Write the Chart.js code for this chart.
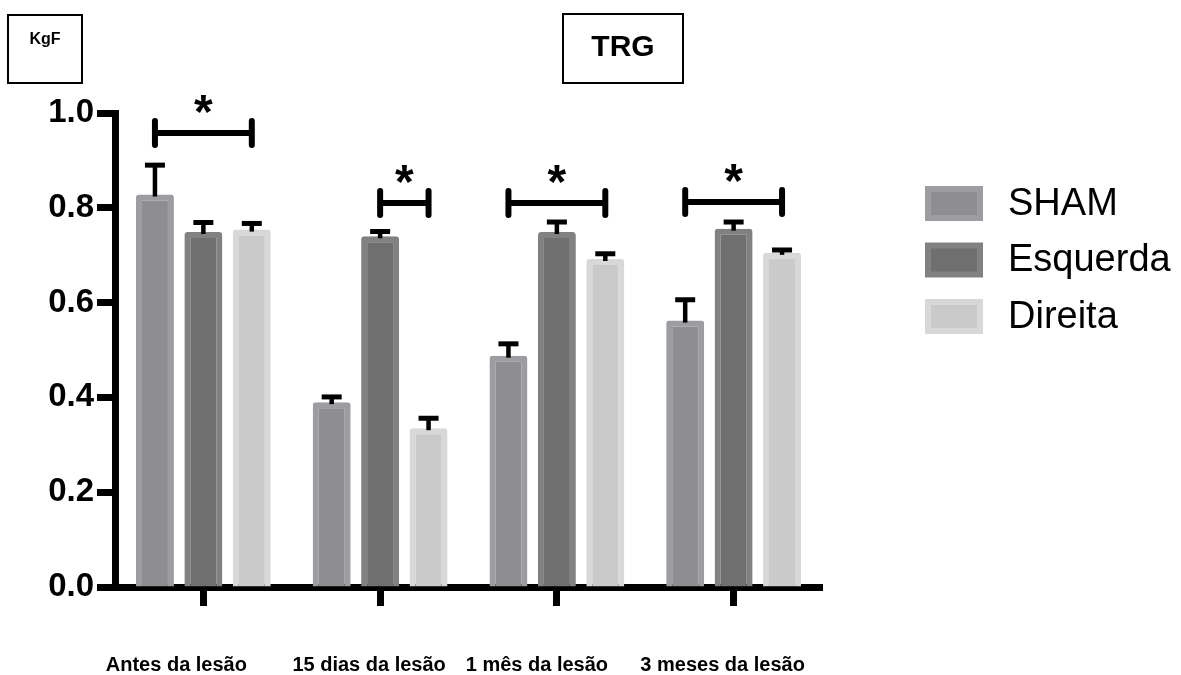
<!DOCTYPE html>
<html>
<head>
<meta charset="utf-8">
<script src="https://cdn.jsdelivr.net/npm/chart.js@4.4.1/dist/chart.umd.min.js"></script>
<style>
  html, body { margin: 0; padding: 0; background: #fff; }
  #wrap { width: 1181px; height: 675px; }
</style>
</head>
<body>
<div id="wrap"><canvas id="c" width="1181" height="675"></canvas></div>
<script>
// Groups along the x axis
const categories = ['Antes da lesão', '15 dias da lesão', '1 mês da lesão', '3 meses da lesão'];
// Series labels
const seriesNames = ['SHAM', 'Esquerda', 'Direita'];
// Means (KgF)
const shamMean     = [0.828, 0.390, 0.488, 0.562];
const esquerdaMean = [0.749, 0.740, 0.749, 0.756];
const direitaMean  = [0.754, 0.335, 0.692, 0.705];
// Upper error (SEM)
const shamErr      = [0.062, 0.011, 0.025, 0.044];
const esquerdaErr  = [0.020, 0.010, 0.021, 0.014];
const direitaErr   = [0.013, 0.021, 0.011, 0.006];
// y-axis tick values
const yTicks = [0.0, 0.2, 0.4, 0.6, 0.8, 1.0];
// Significance brackets: category, first series, last series, height (KgF)
const sigCategory = [0, 1, 2, 3];
const sigFrom     = [0, 1, 0, 0];
const sigTo       = [2, 2, 2, 2];
const sigLevel    = [0.958, 0.810, 0.810, 0.812];

const fillInner = ['#8e8d92', '#6f6f6f', '#cacaca'];
const fillOuter = ['#9d9ca1', '#818181', '#d8d8d8'];
const errors = [shamErr, esquerdaErr, direitaErr];
const means = [shamMean, esquerdaMean, direitaMean];
const LABEL_SHIFT = [-27, -11, -20, -11];
const BOLD = "'Liberation Sans', Arial, sans-serif";

const overlay = {
  id: 'overlay',
  afterDatasetsDraw(chart) {
    const ctx = chart.ctx;
    const ys = chart.scales.y;
    const xs = chart.scales.x;
    ctx.save();
    ctx.strokeStyle = '#000';
    ctx.fillStyle = '#000';

    // error bars (upper only)
    ctx.lineCap = 'butt';
    means.forEach((arr, d) => {
      const meta = chart.getDatasetMeta(d);
      meta.data.forEach((bar, i) => {
        const yTop = ys.getPixelForValue(arr[i]);
        const yErr = ys.getPixelForValue(arr[i] + errors[d][i]);
        ctx.lineWidth = 4.5;
        ctx.beginPath();
        ctx.moveTo(bar.x, yTop + 2);
        ctx.lineTo(bar.x, yErr);
        ctx.stroke();
        ctx.lineWidth = 5;
        ctx.beginPath();
        ctx.moveTo(bar.x - 10, yErr);
        ctx.lineTo(bar.x + 10, yErr);
        ctx.stroke();
      });
    });

    // significance brackets with asterisks
    sigCategory.forEach((c, k) => {
      const x1 = chart.getDatasetMeta(sigFrom[k]).data[c].x;
      const x2 = chart.getDatasetMeta(sigTo[k]).data[c].x;
      const y = ys.getPixelForValue(sigLevel[k]);
      ctx.lineWidth = 6;
      ctx.lineCap = 'butt';
      ctx.beginPath();
      ctx.moveTo(x1, y);
      ctx.lineTo(x2, y);
      ctx.stroke();
      ctx.lineCap = 'round';
      [x1, x2].forEach(x => {
        ctx.beginPath();
        ctx.moveTo(x, y - 12);
        ctx.lineTo(x, y + 12);
        ctx.stroke();
      });
      ctx.font = 'bold 48px ' + BOLD;
      ctx.textAlign = 'center';
      ctx.textBaseline = 'alphabetic';
      const m = ctx.measureText('*');
      const cy = y - 29;
      ctx.fillText('*', (x1 + x2) / 2, cy + (m.actualBoundingBoxAscent - m.actualBoundingBoxDescent) / 2);
    });

    // category labels
    ctx.font = 'bold 20px ' + BOLD;
    ctx.textAlign = 'center';
    ctx.textBaseline = 'alphabetic';
    categories.forEach((lab, i) => {
      ctx.fillText(lab, xs.getPixelForTick(i) + LABEL_SHIFT[i], 671);
    });

    // legend
    ctx.textAlign = 'left';
    ctx.textBaseline = 'middle';
    ctx.font = "38px 'Liberation Sans', Arial, sans-serif";
    seriesNames.forEach((name, i) => {
      const cy = 203.5 + i * 56.5;
      ctx.fillStyle = fillOuter[i];
      ctx.fillRect(925, cy - 17.5, 58, 35);
      ctx.fillStyle = fillInner[i];
      ctx.fillRect(931, cy - 11.5, 46, 23);
      ctx.fillStyle = '#000';
      ctx.fillText(name, 1008, cy + 1);
    });

    // boxed unit and title
    ctx.lineWidth = 2;
    ctx.strokeRect(8, 15, 74, 68);
    ctx.strokeRect(563, 14, 120, 69);
    ctx.textAlign = 'center';
    ctx.font = 'bold 16px ' + BOLD;
    ctx.fillText('KgF', 45, 40);
    ctx.font = 'bold 30px ' + BOLD;
    ctx.fillText('TRG', 623, 48);
    ctx.restore();
  }
};

new Chart(document.getElementById('c'), {
  type: 'bar',
  data: {
    labels: categories,
    datasets: seriesNames.map((name, i) => ({
      label: name,
      data: means[i],
      backgroundColor: fillInner[i],
      borderColor: fillOuter[i],
      borderWidth: { top: 6, left: 6, right: 6, bottom: 0 },
      borderSkipped: 'bottom',
      borderRadius: { topLeft: 3, topRight: 3, bottomLeft: 0, bottomRight: 0 },
      categoryPercentage: 0.822,
      barPercentage: 0.784
    }))
  },
  options: {
    responsive: false,
    animation: false,
    devicePixelRatio: 1,
    layout: { padding: { left: 0, right: 359, top: 113, bottom: 0 } },
    plugins: { legend: { display: false }, tooltip: { enabled: false }, title: { display: false } },
    scales: {
      x: {
        offset: true,
        grid: { offset: false, drawOnChartArea: false, drawTicks: true, tickLength: 19, tickWidth: 7, color: '#000' },
        border: { display: true, color: '#000', width: 7 },
        ticks: { display: false },
        afterFit: s => { s.height = 88; }
      },
      y: {
        min: 0, max: 1,
        afterBuildTicks: s => { s.ticks = yTicks.map(v => ({ value: v })); },
        grid: { drawOnChartArea: false, drawTicks: true, tickLength: 18, tickWidth: 7, color: '#000' },
        border: { display: true, color: '#000', width: 7 },
        ticks: {
          padding: 3,
          color: '#000',
          font: { family: BOLD, size: 33, weight: 'bold' },
          callback: v => Number(v).toFixed(1)
        },
        afterFit: s => { s.width = 115; }
      }
    }
  },
  plugins: [overlay]
});
</script>
</body>
</html>
